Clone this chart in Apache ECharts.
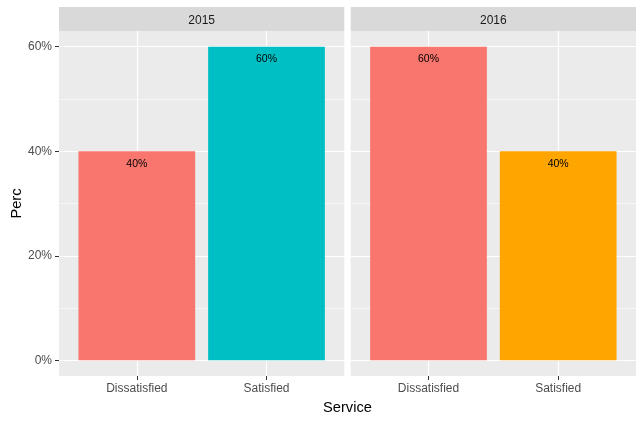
<!DOCTYPE html>
<html><head><meta charset="utf-8">
<script src="https://cdn.jsdelivr.net/npm/echarts@6/dist/echarts.min.js"></script>
<style>html,body{margin:0;padding:0;background:#fff}#c{width:644px;height:421px}</style>
</head><body><div id="c"></div>
<script>
// ---- data ----
const years = ['2015', '2016'];
const categories = ['Dissatisfied', 'Satisfied'];
const perc2015 = [40, 60];
const perc2016 = [60, 40];
const yTickValues = [0, 20, 40, 60];
const xTitle = 'Service';
const yTitle = 'Perc';

// ---- style / layout ----
const values = [perc2015, perc2016];
const barColors = [['#F8766D', '#00BFC4'], ['#F8766D', '#FFA500']];
const FONT = 'Liberation Sans, Arial, Helvetica, sans-serif';
const panelLefts = [59, 350.7];
const panelW = 285.3;
const panelTop = 31, panelH = 345;
const stripTop = 7, stripH = 24;
const yMin = -3, yMax = 63;
const unit = panelW / 2.2;
const ppu = panelH / (yMax - yMin);
const tickInterval = yTickValues[1] - yTickValues[0];

const grids = [], xAxes = [], yAxes = [], series = [];
const hiddenX = (gi) => ({ type: 'value', gridIndex: gi, show: false, axisLine: { onZero: false } });
const hiddenY = (gi) => ({ type: 'value', gridIndex: gi, show: false, axisLine: { onZero: false } });

years.forEach((yr, i) => {
  const L = panelLefts[i];
  // g0: panel background
  let gi = grids.length;
  grids.push({ left: L, top: panelTop, width: panelW, height: panelH, show: true, backgroundColor: '#EBEBEB', borderWidth: 0 });
  xAxes.push(hiddenX(gi)); yAxes.push(hiddenY(gi));

  // g1: horizontal grid lines + y labels
  gi = grids.length;
  grids.push({ left: L, top: panelTop + (yMax - yTickValues[yTickValues.length - 1]) * ppu, width: panelW,
               height: (yTickValues[yTickValues.length - 1] - yTickValues[0]) * ppu, show: false });
  xAxes.push(hiddenX(gi));
  yAxes.push({
    type: 'value', gridIndex: gi, min: yTickValues[0], max: yTickValues[yTickValues.length - 1], interval: tickInterval,
    axisLine: { show: false, onZero: false },
    axisTick: { show: i === 0, length: 4, lineStyle: { color: '#333333', width: 1 } },
    axisLabel: { show: i === 0, formatter: '{value}%', color: '#4D4D4D', fontSize: 12, fontFamily: FONT, margin: 7 },
    splitLine: { show: true, lineStyle: { color: '#FFFFFF', width: 1.2 } },
    minorTick: { show: false, splitNumber: 2 },
    minorSplitLine: { show: true, lineStyle: { color: '#FFFFFF', width: 0.6 } },
    name: i === 0 ? yTitle : '', nameLocation: 'middle', nameGap: 34,
    nameTextStyle: { color: '#000000', fontSize: 14.67, fontFamily: FONT }
  });

  // g2: bars + category axis
  gi = grids.length;
  grids.push({ left: L + 0.6 * unit, top: panelTop, width: unit, height: panelH, show: false });
  xAxes.push({
    type: 'category', gridIndex: gi, data: categories, boundaryGap: false,
    axisLine: { show: false, onZero: false },
    axisTick: { show: true, length: 4, lineStyle: { color: '#333333', width: 1 } },
    axisLabel: { color: '#4D4D4D', fontSize: 12, fontFamily: FONT, margin: 7, interval: 0 },
    splitLine: { show: true, lineStyle: { color: '#FFFFFF', width: 1.2 } }
  });
  yAxes.push({ type: 'value', gridIndex: gi, min: yMin, max: yMax, show: false, axisLine: { onZero: false } });
  series.push({
    type: 'bar', xAxisIndex: gi, yAxisIndex: gi, barWidth: '90%', clip: false,
    data: values[i].map((v, j) => ({ value: v, itemStyle: { color: barColors[i][j] } })),
    label: { show: true, position: 'insideTop', distance: 7, formatter: '{c}%', color: '#000000', fontSize: 10.5, fontFamily: FONT },
    emphasis: { disabled: true }, animation: false
  });

  // g3: strip
  gi = grids.length;
  grids.push({ left: L, top: stripTop, width: panelW, height: stripH, show: true, backgroundColor: '#D9D9D9', borderWidth: 0 });
  xAxes.push({
    type: 'category', gridIndex: gi, data: [yr], boundaryGap: true,
    axisLine: { show: false, onZero: false }, axisTick: { show: false }, splitLine: { show: false },
    axisLabel: { inside: true, margin: 4, color: '#1A1A1A', fontSize: 12, fontFamily: FONT }
  });
  yAxes.push(hiddenY(gi));
});

// title grid spanning both panels
{
  const gi = grids.length;
  grids.push({ left: panelLefts[0], top: panelTop, width: panelLefts[1] + panelW - panelLefts[0], height: panelH, show: false });
  xAxes.push({
    type: 'value', gridIndex: gi, min: 0, max: 1,
    axisLine: { show: false, onZero: false }, axisTick: { show: false }, axisLabel: { show: false }, splitLine: { show: false },
    name: xTitle, nameLocation: 'middle', nameGap: 24,
    nameTextStyle: { color: '#000000', fontSize: 14.67, fontFamily: FONT }
  });
  yAxes.push(hiddenY(gi));
}

const chart = echarts.init(document.getElementById('c'), null, { renderer: 'canvas' });
chart.setOption({ animation: false, backgroundColor: '#FFFFFF', grid: grids, xAxis: xAxes, yAxis: yAxes, series: series });
</script></body></html>
